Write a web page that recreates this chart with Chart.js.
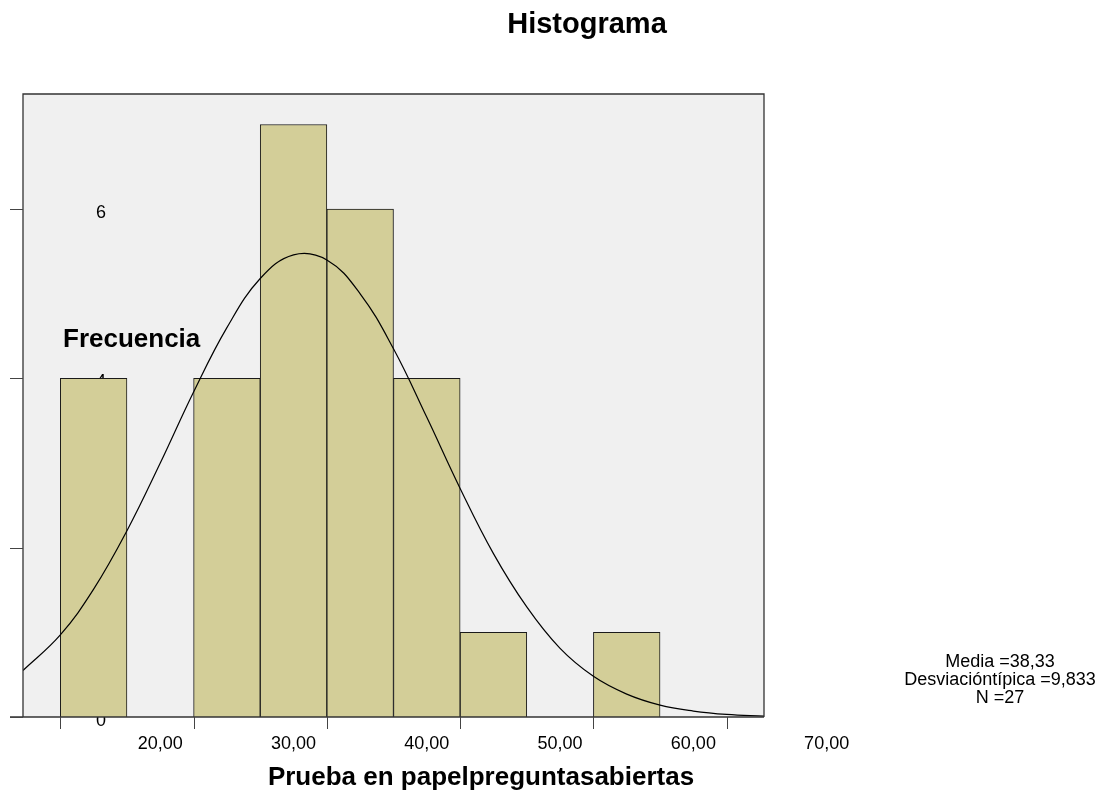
<!DOCTYPE html>
<html>
<head>
<meta charset="utf-8">
<script src="https://cdn.jsdelivr.net/npm/chart.js@4"></script>
<style>
  html, body { margin: 0; padding: 0; background: #ffffff; }
  canvas { display: block; }
</style>
</head>
<body>
<canvas id="histograma" width="1110" height="793"></canvas>
<script>
// datos del histograma
const centrosClase = [15, 25, 30, 35, 40, 45, 55];
const frecuencias = [4, 4, 7, 6, 4, 1, 1];

// curva normal
const curvaX = [9.7, 12.5, 15, 17.5, 20, 22.5, 25, 27.5, 30, 32.5, 35, 37.5, 40, 42.5, 45, 47.5, 50, 52.5, 55, 57.5, 60, 62.5, 65.3];
const curvaY = [0.55, 0.97, 1.51, 2.20, 3.00, 3.84, 4.60, 5.18, 5.46, 5.40, 5.00, 4.35, 3.54, 2.70, 1.93, 1.30, 0.81, 0.48, 0.27, 0.14, 0.07, 0.03, 0.01];

// marcas y etiquetas de los ejes
const marcasX = [12.5, 22.5, 32.5, 42.5, 52.5, 62.5];
const valoresEtiquetaX = [20, 30, 40, 50, 60, 70];
const etiquetasX = ["20,00", "30,00", "40,00", "50,00", "60,00", "70,00"];
const marcasY = [0, 2, 4, 6];
const etiquetasY = ["0", "2", "4", "6"];

const estadisticos = ["Media =38,33", "Desviacióntípica =9,833", "N =27"];

const FUENTE = "'Liberation Sans', Arial, sans-serif";

const fondoYEtiquetas = {
    id: "fondoYEtiquetas",
    beforeDraw(chart) {
        const { ctx, chartArea: a } = chart;
        ctx.save();
        ctx.fillStyle = "#f0f0f0";
        ctx.fillRect(a.left, a.top, a.right - a.left, a.bottom - a.top);
        ctx.restore();
    },
    beforeDatasetsDraw(chart) {
        // las etiquetas del eje y quedan detrás de las barras
        const { ctx } = chart;
        const y = chart.scales.y;
        ctx.save();
        ctx.fillStyle = "#000";
        ctx.font = "18px " + FUENTE;
        ctx.textAlign = "center";
        ctx.textBaseline = "alphabetic";
        marcasY.forEach((v, i) => {
            ctx.fillText(etiquetasY[i], 101, y.getPixelForValue(v) + 9);
        });
        ctx.restore();
    },
    afterDraw(chart) {
        const { ctx, chartArea: a } = chart;
        const x = chart.scales.x;
        const y = chart.scales.y;
        ctx.save();

        // marco del gráfico
        ctx.strokeStyle = "#333";
        ctx.lineWidth = 1.3;
        ctx.beginPath();
        ctx.moveTo(a.left, a.bottom);
        ctx.lineTo(a.left, a.top);
        ctx.lineTo(a.right, a.top);
        ctx.lineTo(a.right, a.bottom);
        ctx.stroke();
        ctx.beginPath();
        ctx.moveTo(10, a.bottom);
        ctx.lineTo(a.right, a.bottom);
        ctx.stroke();

        // marcas del eje y
        ctx.lineWidth = 1;
        ctx.strokeStyle = "#444";
        marcasY.forEach(v => {
            const py = Math.round(y.getPixelForValue(v)) + 0.5;
            ctx.beginPath();
            ctx.moveTo(10, py);
            ctx.lineTo(a.left, py);
            ctx.stroke();
        });

        // marcas del eje x
        marcasX.forEach(v => {
            const px = Math.round(x.getPixelForValue(v)) + 0.5;
            ctx.beginPath();
            ctx.moveTo(px, a.bottom);
            ctx.lineTo(px, a.bottom + 12);
            ctx.stroke();
        });

        ctx.fillStyle = "#000";
        ctx.textAlign = "center";
        ctx.textBaseline = "alphabetic";

        ctx.font = "18px " + FUENTE;
        valoresEtiquetaX.forEach((v, i) => {
            ctx.fillText(etiquetasX[i], x.getPixelForValue(v), 749);
        });

        // títulos
        ctx.font = "bold 29px " + FUENTE;
        ctx.fillText("Histograma", 587, 33);

        ctx.font = "bold 26px " + FUENTE;
        ctx.fillText("Prueba en papelpreguntasabiertas", 481, 785);

        ctx.textAlign = "left";
        ctx.fillText("Frecuencia", 63, 347);

        // estadísticos
        ctx.font = "18px " + FUENTE;
        ctx.textAlign = "center";
        estadisticos.forEach((t, i) => {
            ctx.fillText(t, 1000, 667 + i * 18);
        });

        ctx.restore();
    }
};

new Chart(document.getElementById("histograma"), {
    type: "bar",
    data: {
        datasets: [
            {
                type: "line",
                data: curvaX.map((v, i) => ({ x: v, y: curvaY[i] })),
                borderColor: "#000",
                borderWidth: 1.2,
                pointRadius: 0,
                tension: 0.4,
                fill: false,
                order: 0
            },
            {
                type: "bar",
                data: centrosClase.map((v, i) => ({ x: v, y: frecuencias[i] })),
                backgroundColor: "#d3ce98",
                borderColor: "#1a1a1a",
                borderWidth: 1,
                barPercentage: 1,
                categoryPercentage: 1,
                order: 1
            }
        ]
    },
    options: {
        responsive: false,
        animation: false,
        layout: { padding: { left: 23, right: 346, top: 94, bottom: 76 } },
        scales: {
            x: { type: "linear", min: 9.7, max: 65.3, offset: false, display: false },
            y: { type: "linear", min: 0, max: 7.36, display: false }
        },
        plugins: {
            legend: { display: false },
            title: { display: false },
            tooltip: { enabled: false }
        }
    },
    plugins: [fondoYEtiquetas]
});
</script>
</body>
</html>
